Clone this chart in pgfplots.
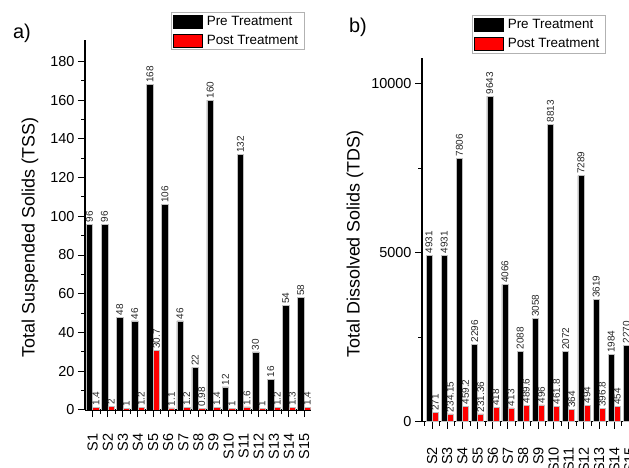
\documentclass[border=0pt]{standalone}
\usepackage{fontspec}
\setmainfont{Liberation Sans}
\usepackage{pgfplots}
\pgfplotsset{compat=1.18}

\pgfplotsset{
  mybase/.style={
    scale only axis,
    axis x line=bottom, axis y line=left,
    axis line style={line width=1.2bp, -},
    ybar=0pt, bar width=6.5bp,
    enlargelimits=false,
    ymin=0,
    tick align=outside,
    major tick length=7bp, minor tick length=4bp,
    every tick/.style={black, line width=1bp},
    /pgf/number format/assume math mode=true,
    /pgf/number format/1000 sep={},
    scaled y ticks=false,
    tick label style={font=\fontsize{14.5}{16}\selectfont},
    xtick={1,...,15},
    xticklabels={S1,S2,S3,S4,S5,S6,S7,S8,S9,S10,S11,S12,S13,S14,S15},
    minor x tick num=1,
    minor y tick num=1,
    xticklabel style={rotate=90, anchor=east},
    ylabel style={font=\fontsize{18}{20}\selectfont, anchor=center},
    nodes near coords={\pgfmathprintnumber[fixed,precision=2,1000 sep={}]{\pgfplotspointmeta}},
    every node near coord/.append style={rotate=90, anchor=west, font=\fontsize{10}{11}\selectfont, text=black!85, inner sep=1.5bp},
    legend image code/.code={\draw[#1, draw=black, line width=0.5bp] (0bp,-6.5bp) rectangle (29bp,6.5bp);},
    legend style={draw=gray!60, line width=0.6bp, fill=white, font=\fontsize{13.5}{15}\selectfont,
      inner xsep=2bp, inner ysep=0bp, nodes={inner sep=4bp}, legend cell align=left},
  },
  prestyle/.style={fill=black, draw=gray!50, line width=0.5bp},
  poststyle/.style={fill=red, draw=gray!50, line width=0.5bp},
}

\begin{document}
\begin{tikzpicture}
\useasboundingbox (0,0) rectangle (629bp,468bp);
\clip (0,0) rectangle (629bp,468bp);

% panel a
\begin{axis}[mybase,
  at={(85bp,58bp)}, anchor=south west,
  width=225.7bp, height=370bp,
  xmin=0.49, xmax=15.44,
  ymax=191,
  ytick={0,20,...,180},
  xticklabel shift=13bp,
  ylabel={Total Suspended Solids (TSS)},
  ylabel style={at={(axis description cs:-0.2437,0.466)}},
  legend style={at={(0.381,1.0757)}, anchor=north west},
]
\addplot[prestyle] coordinates {
 (1,96) (2,96) (3,48) (4,46) (5,168) (6,106) (7,46) (8,22) (9,160) (10,12) (11,132) (12,30) (13,16) (14,54) (15,58)};
\addplot[poststyle] coordinates {
 (1,1.4) (2,2) (3,1) (4,1.2) (5,30.7) (6,1.1) (7,1.2) (8,0.98) (9,1.4) (10,1) (11,1.6) (12,1) (13,1.2) (14,1.3) (15,1.4)};
\legend{Pre Treatment, Post Treatment}
\end{axis}

% panel b
\begin{axis}[mybase,
  at={(422bp,46.3bp)}, anchor=south west,
  width=216.6bp, height=363.7bp,
  bar width=6bp,
  xmin=1.34, xmax=15.6,
  ymax=10770,
  ytick={0,5000,10000},
  xticklabel shift=15bp,
  ylabel={Total Dissolved Solids (TDS)},
  ylabel style={at={(axis description cs:-0.309,0.4886)}},
  legend style={at={(0.2308,1.1182)}, anchor=north west},
]
\addplot[prestyle] coordinates {
 (2,4931) (3,4931) (4,7806) (5,2296) (6,9643) (7,4066) (8,2088) (9,3058) (10,8813) (11,2072) (12,7289) (13,3619) (14,1984) (15,2270)};
\addplot[poststyle] coordinates {
 (2,271) (3,234.15) (4,459.2) (5,231.36) (6,418) (7,413) (8,489.6) (9,496) (10,461.8) (11,364) (12,494) (13,396.8) (14,454)};
\legend{Pre Treatment, Post Treatment}
\end{axis}

\node[font=\fontsize{20}{22}\selectfont] at (22bp,435bp) {a)};
\node[font=\fontsize{20}{22}\selectfont] at (358bp,441bp) {b)};
\end{tikzpicture}
\end{document}
